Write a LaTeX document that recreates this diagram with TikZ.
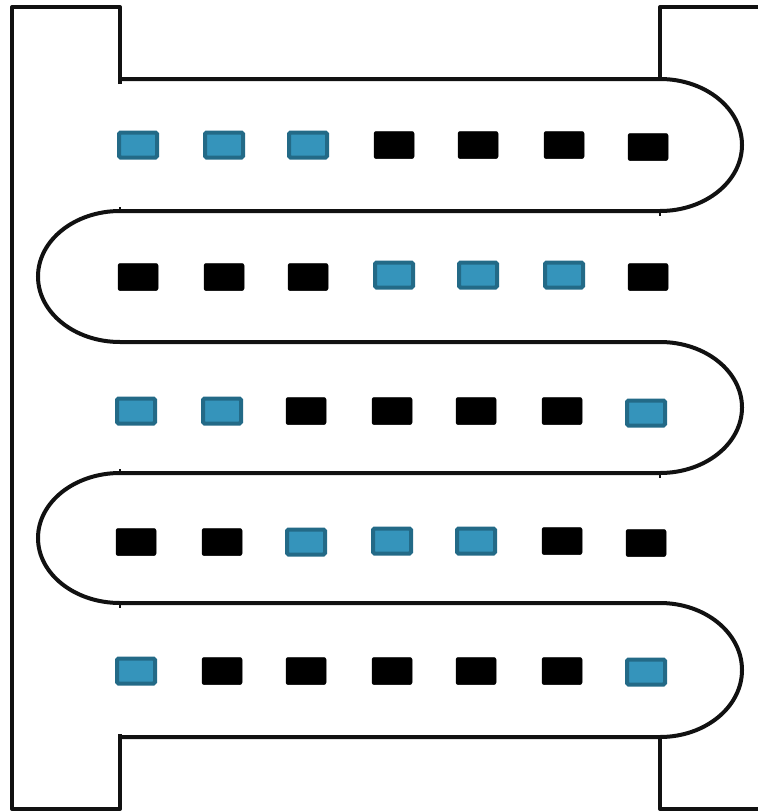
\documentclass[tikz,border=0pt]{standalone}
\usepackage{tikz}

\definecolor{slotfill}{HTML}{3594BB}
\definecolor{slotedge}{HTML}{236A87}
\definecolor{wall}{HTML}{111111}

\tikzset{
    wallline/.style={draw=wall, line width=4pt},
    onbox/.style={draw=slotedge, fill=slotfill, line width=4pt,
        rounded corners=1.5pt, minimum width=38pt, minimum height=25pt,
        inner sep=0pt},
    offbox/.style={draw=black, fill=black, line width=0.5pt,
        rounded corners=2pt, minimum width=40pt, minimum height=27pt,
        inner sep=0pt},
}

\begin{document}
\begin{tikzpicture}[x=1pt, y=-1pt]
    \useasboundingbox (0,0) rectangle (758,811);

    % outer frame
    \draw[wallline, line join=round]
    (120,84) coordinate (TL) -- (120,7) -- (12,7) -- (12,809)
    -- (120,809) -- (120,734) coordinate (BL);
    \draw[wallline, line join=round]
    (660,79) coordinate (TR) -- (660,7) -- (758,7);
    \draw[wallline, line join=round]
    (660,737) coordinate (BR) -- (660,809) -- (758,809);

    % serpentine channel
    \draw[wallline]
    (120,79) coordinate (C0) -- (660,79)
    arc[start angle=-90, end angle=90, x radius=82, y radius=66]
    -- (120,211) coordinate (C1)
    arc[start angle=270, end angle=90, x radius=82, y radius=65.5]
    -- (660,342) coordinate (C2)
    arc[start angle=-90, end angle=90, x radius=82, y radius=65.5]
    -- (120,473) coordinate (C3)
    arc[start angle=270, end angle=90, x radius=82, y radius=65]
    -- (660,603) coordinate (C4)
    arc[start angle=-90, end angle=90, x radius=82, y radius=67]
    -- (120,737) coordinate (C5);

    % small joints
    \draw[wall, line width=2.5pt] (120,207) -- (120,211);
    \draw[wall, line width=2.5pt] (660,211) -- (660,216);
    \draw[wall, line width=2.5pt] (120,469) -- (120,473);
    \draw[wall, line width=2.5pt] (660,473) -- (660,478);
    \draw[wall, line width=2.5pt] (120,603) -- (120,608);

    % row 1
    \node[onbox]  (r1a) at (138,145) {};
    \node[onbox]  (r1b) at (224,145) {};
    \node[onbox]  (r1c) at (308,145) {};
    \node[offbox] (r1d) at (394,145) {};
    \node[offbox] (r1e) at (478,145) {};
    \node[offbox] (r1f) at (564,145) {};
    \node[offbox] (r1g) at (648,147) {};

    % row 2
    \node[offbox] (r2a) at (138,277) {};
    \node[offbox] (r2b) at (224,277) {};
    \node[offbox] (r2c) at (308,277) {};
    \node[onbox]  (r2d) at (394,275) {};
    \node[onbox]  (r2e) at (478,275) {};
    \node[onbox]  (r2f) at (564,275) {};
    \node[offbox] (r2g) at (648,277) {};

    % row 3
    \node[onbox]  (r3a) at (136,411) {};
    \node[onbox]  (r3b) at (222,411) {};
    \node[offbox] (r3c) at (306,411) {};
    \node[offbox] (r3d) at (392,411) {};
    \node[offbox] (r3e) at (476,411) {};
    \node[offbox] (r3f) at (562,411) {};
    \node[onbox]  (r3g) at (646,413) {};

    % row 4
    \node[offbox] (r4a) at (136,542) {};
    \node[offbox] (r4b) at (222,542) {};
    \node[onbox]  (r4c) at (306,542) {};
    \node[onbox]  (r4d) at (392,541) {};
    \node[onbox]  (r4e) at (476,541) {};
    \node[offbox] (r4f) at (562,541) {};
    \node[offbox] (r4g) at (646,543) {};

    % row 5
    \node[onbox]  (r5a) at (136,671) {};
    \node[offbox] (r5b) at (222,671) {};
    \node[offbox] (r5c) at (306,671) {};
    \node[offbox] (r5d) at (392,671) {};
    \node[offbox] (r5e) at (476,671) {};
    \node[offbox] (r5f) at (562,671) {};
    \node[onbox]  (r5g) at (646,672) {};
\end{tikzpicture}
\end{document}
